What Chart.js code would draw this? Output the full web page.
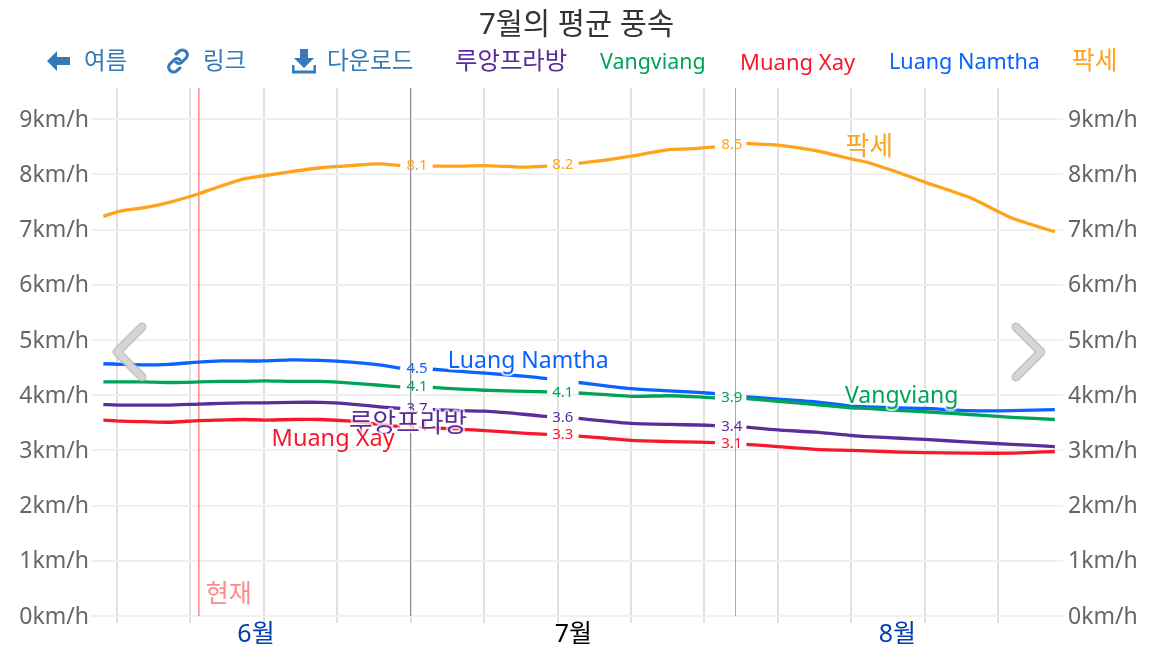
<!DOCTYPE html>
<html lang="ko">
<head>
<meta charset="utf-8">
<title>7월의 평균 풍속</title>
<script src="https://cdn.jsdelivr.net/npm/chart.js@4"></script>
<style>
body { margin: 0; background: #fff; overflow: hidden; }
#box { position: relative; width: 1153px; height: 647px; }
#grafico { position: absolute; left: 0; top: 0; }
.item { position: absolute; top: 44px; height: 34px; line-height: 34px; font-size: 22px; white-space: nowrap;
        font-family: "Noto Sans", "Noto Sans CJK KR", sans-serif; }
.nav { color: #337ab7; font-size: 23.5px; top: 43px; }
.icone, .seta { position: absolute; }
</style>
</head>
<body>
<div id="box">
  <canvas id="grafico" width="1153" height="647"></canvas>
  <svg class="icone" style="left:46px;top:50px" width="25" height="22" viewBox="0 0 25 22"><path d="M1 11 L11 1 V7 H24 V15 H11 V21 Z" fill="#337ab7"/></svg>
  <span class="item nav" style="left:84px">여름</span>
  <svg class="icone" style="left:166px;top:48px" width="24" height="26" viewBox="0 0 24 26"><g fill="none" stroke="#337ab7" stroke-width="3" stroke-linecap="round"><path d="M10 6 L14 2.5 Q17 1 20 3.5 Q22.5 6.5 20.5 9.5 L15 15 Q12 16.5 10 14"/><path d="M14 20 L10 23.5 Q7 25 4 22.5 Q1.5 19.5 3.5 16.5 L9 11 Q12 9.5 14 12"/></g></svg>
  <span class="item nav" style="left:203px">링크</span>
  <svg class="icone" style="left:292px;top:48px" width="24" height="26" viewBox="0 0 24 26"><path d="M8 1 H16 V10 H22 L12 20 L2 10 H8 Z" fill="#337ab7"/><path d="M1 17 V24 H23 V17" fill="none" stroke="#337ab7" stroke-width="3"/></svg>
  <span class="item nav" style="left:327px">다운로드</span>
  <svg class="seta" style="left:108px;top:320px" width="45" height="66" viewBox="0 0 45 66"><polyline points="34,7 9,32 34,57" fill="none" stroke="#b4b4b4" stroke-opacity="0.8" stroke-width="9" stroke-linecap="round" stroke-linejoin="round"/><polyline points="34,7 9,32 34,57" fill="none" stroke="#dadada" stroke-opacity="0.85" stroke-width="6" stroke-linecap="round" stroke-linejoin="round"/></svg>
  <svg class="seta" style="left:1005px;top:320px" width="45" height="66" viewBox="0 0 45 66"><polyline points="11,7 36,32 11,57" fill="none" stroke="#b4b4b4" stroke-opacity="0.8" stroke-width="9" stroke-linecap="round" stroke-linejoin="round"/><polyline points="11,7 36,32 11,57" fill="none" stroke="#dadada" stroke-opacity="0.85" stroke-width="6" stroke-linecap="round" stroke-linejoin="round"/></svg>
</div>
<script>
// dias contados a partir de 1 de junho
const dias = [0.7, 2.4, 4.6, 6.9, 9.8, 11.9, 14.1, 16.1, 18.6, 21.4, 24.3, 27, 29, 30.6, 32.1, 34.8, 37.1, 41, 43, 44.5, 46, 48.6, 51, 54.6, 57.4, 59, 60.6, 62, 65, 68.6, 72, 73.5, 76.7, 79, 83.3, 87.3, 91.4];

const pakse = [7.24, 7.34, 7.40, 7.49, 7.65, 7.79, 7.92, 7.98, 8.05, 8.12, 8.16, 8.19, 8.16, null, 8.15, 8.15, 8.16, 8.13, 8.15, null, 8.20, 8.26, 8.33, 8.45, 8.47, 8.50, null, 8.56, 8.53, 8.43, 8.28, 8.22, 8.02, 7.86, 7.58, 7.21, 6.96];
const luangNamtha = [4.57, 4.56, 4.55, 4.56, 4.60, 4.62, 4.62, 4.62, 4.64, 4.63, 4.60, 4.55, 4.49, null, 4.47, 4.43, 4.40, 4.34, 4.30, null, 4.23, 4.17, 4.12, 4.08, 4.05, 4.03, null, 3.97, 3.93, 3.88, 3.80, 3.79, 3.77, 3.76, 3.72, 3.72, 3.74];
const vangviang = [4.24, 4.24, 4.24, 4.23, 4.24, 4.25, 4.25, 4.26, 4.25, 4.25, 4.22, 4.18, 4.15, null, 4.14, 4.11, 4.09, 4.07, 4.06, null, 4.04, 4.01, 3.98, 3.99, 3.97, 3.95, null, 3.94, 3.89, 3.83, 3.77, 3.76, 3.72, 3.70, 3.65, 3.60, 3.56];
const luangPrabang = [3.83, 3.82, 3.82, 3.82, 3.84, 3.85, 3.86, 3.86, 3.87, 3.87, 3.84, 3.79, 3.76, null, 3.74, 3.72, 3.71, 3.65, 3.61, null, 3.58, 3.53, 3.49, 3.47, 3.46, 3.45, null, 3.42, 3.37, 3.33, 3.27, 3.25, 3.22, 3.20, 3.15, 3.11, 3.07];
const muangXay = [3.55, 3.53, 3.52, 3.51, 3.54, 3.55, 3.56, 3.55, 3.56, 3.56, 3.53, 3.47, 3.43, null, 3.41, 3.38, 3.36, 3.31, 3.29, null, 3.26, 3.22, 3.18, 3.16, 3.15, 3.14, null, 3.11, 3.07, 3.02, 3.00, 2.99, 2.97, 2.96, 2.95, 2.95, 2.98];

// medias mensais escritas nos buracos das linhas (null = a figura nao mostra)
const mediaPakse = [8.1, 8.2, 8.5];
const mediaLuangNamtha = [4.5, null, null];
const mediaVangviang = [4.1, 4.1, 3.9];
const mediaLuangPrabang = [3.7, 3.6, 3.4];
const mediaMuangXay = [3.4, 3.3, 3.1];

const semanas = [2, 9, 16, 23, 30, 37, 44, 51, 58, 65, 72, 79, 86];
const inicioMeses = [30, 61];
const meioMeses = [15.25, 45.5, 76.4];
const nomesMeses = ['6월', '7월', '8월'];
const ticksY = [0, 1, 2, 3, 4, 5, 6, 7, 8, 9];
const hoje = 9.8;

const fonte = '"Noto Sans", "Noto Sans CJK KR", sans-serif';

const series = [
    { nome: '루앙프라방', dados: luangPrabang, medias: mediaLuangPrabang, cor: '#5b2d9b', textoX: 29.74, textoY: 3.46, tamTexto: 25.7, legenda: 455, tamLegenda: 24.4, topo: 43 },
    { nome: 'Vangviang', dados: vangviang, medias: mediaVangviang, cor: '#00a35a', textoX: 76.8, textoY: 3.98, tamTexto: 23, legenda: 600, tamLegenda: 21.4, topo: 44 },
    { nome: 'Muang Xay', dados: muangXay, medias: mediaMuangXay, cor: '#f5192c', textoX: 22.6, textoY: 3.2, tamTexto: 23.5, legenda: 740, tamLegenda: 22, topo: 44 },
    { nome: 'Luang Namtha', dados: luangNamtha, medias: mediaLuangNamtha, cor: '#0a62ff', textoX: 41.2, textoY: 4.62, tamTexto: 23, legenda: 889, tamLegenda: 21.6, topo: 44 },
    { nome: '팍세', dados: pakse, medias: mediaPakse, cor: '#ffa31a', textoX: 73.7, textoY: 8.48, tamTexto: 25.8, legenda: 1072, tamLegenda: 24.7, topo: 43 }
];

series.forEach((s) => {
    const span = document.createElement('span');
    span.className = 'item';
    span.style.left = s.legenda + 'px';
    span.style.top = s.topo + 'px';
    span.style.fontSize = s.tamLegenda + 'px';
    span.style.color = s.cor;
    span.textContent = s.nome;
    document.getElementById('box').appendChild(span);
});

const linhasFundo = {
    id: 'linhasFundo',
    beforeDatasetsDraw(chart) {
        const { ctx, chartArea, scales } = chart;
        ctx.save();
        inicioMeses.forEach((d, i) => {
            const x = Math.floor(scales.x.getPixelForValue(d)) + 0.5;
            ctx.strokeStyle = i === 0 ? '#8a8a8a' : '#aaaaaa';
            ctx.lineWidth = 1;
            ctx.beginPath();
            ctx.moveTo(x, chartArea.top);
            ctx.lineTo(x, chartArea.bottom);
            ctx.stroke();
        });
        const xHoje = scales.x.getPixelForValue(hoje);
        ctx.strokeStyle = '#ff8a8a';
        ctx.lineWidth = 1.5;
        ctx.beginPath();
        ctx.moveTo(xHoje, chartArea.top);
        ctx.lineTo(xHoje, chartArea.bottom);
        ctx.stroke();
        ctx.fillStyle = '#ff8a8a';
        ctx.font = '25px ' + fonte;
        ctx.textAlign = 'left';
        ctx.textBaseline = 'middle';
        ctx.fillText('현재', xHoje + 7, 595);
        ctx.restore();
    }
};

const textos = {
    id: 'textos',
    afterDatasetsDraw(chart) {
        const { ctx, scales } = chart;
        ctx.save();
        ctx.textAlign = 'center';
        ctx.textBaseline = 'middle';
        // valores nos buracos
        ctx.font = '15px ' + fonte;
        series.forEach((s) => {
            let n = 0;
            s.dados.forEach((v, i) => {
                if (v !== null) return;
                const y = (s.dados[i - 1] + s.dados[i + 1]) / 2;
                const media = s.medias[n];
                n++;
                if (media === null) return;
                ctx.fillStyle = s.cor;
                ctx.fillText(media.toFixed(1), scales.x.getPixelForValue(dias[i]), scales.y.getPixelForValue(y));
            });
        });
        // nomes em cima das linhas
        ctx.lineJoin = 'round';
        series.forEach((s) => {
            const x = scales.x.getPixelForValue(s.textoX);
            const y = scales.y.getPixelForValue(s.textoY);
            ctx.font = s.tamTexto + 'px ' + fonte;
            ctx.strokeStyle = 'rgba(255,255,255,0.7)';
            ctx.lineWidth = 4;
            ctx.strokeText(s.nome, x, y);
            ctx.fillStyle = s.cor;
            ctx.fillText(s.nome, x, y);
        });
        ctx.restore();
    }
};

new Chart(document.getElementById('grafico').getContext('2d'), {
    type: 'line',
    data: {
        datasets: series.map((s) => ({
            label: s.nome,
            data: dias.map((d, i) => ({ x: d, y: s.dados[i] })),
            borderColor: s.cor,
            backgroundColor: s.cor,
            borderWidth: 3.3,
            pointRadius: 0,
            tension: 0.2,
            spanGaps: false,
            yAxisID: 'y'
        }))
    },
    options: {
        responsive: false,
        animation: false,
        layout: { padding: 0 },
        plugins: {
            legend: { display: false },
            tooltip: { enabled: false },
            title: {
                display: true,
                text: '7월의 평균 풍속',
                color: '#333333',
                font: { family: fonte, size: 29.5, weight: 'normal' },
                padding: { top: 8, bottom: 44.6 }
            }
        },
        scales: {
            x: {
                type: 'linear',
                min: -0.48,
                max: 92.18,
                afterBuildTicks(scale) {
                    scale.ticks = semanas.concat(meioMeses).sort((a, b) => a - b).map((v) => ({ value: v }));
                },
                afterFit(scale) { scale.height = 31; },
                border: { display: false },
                grid: {
                    color: (c) => (semanas.includes(c.tick.value) ? '#e0e0e0' : 'transparent'),
                    lineWidth: 2,
                    tickLength: 7
                },
                ticks: {
                    autoSkip: false,
                    maxRotation: 0,
                    padding: -3,
                    font: { family: fonte, size: 25 },
                    color: (c) => (c.tick.value === meioMeses[1] ? '#000000' : '#0040b0'),
                    callback: (v) => {
                        const i = meioMeses.indexOf(v);
                        return i >= 0 ? nomesMeses[i] : '';
                    }
                }
            },
            y: {
                position: 'left',
                min: 0,
                max: 9.565,
                afterBuildTicks(scale) { scale.ticks = ticksY.map((v) => ({ value: v })); },
                afterFit(scale) { scale.width = 91; },
                border: { display: false },
                grid: { color: '#f0f0f0', lineWidth: 2, drawTicks: false },
                ticks: {
                    padding: 2,
                    labelOffset: 1,
                    color: '#666666',
                    font: { family: fonte, size: 23 },
                    callback: (v) => v + 'km/h'
                }
            },
            y2: {
                position: 'right',
                min: 0,
                max: 9.565,
                afterBuildTicks(scale) { scale.ticks = ticksY.map((v) => ({ value: v })); },
                afterFit(scale) { scale.width = 90; },
                border: { display: false },
                grid: { display: false, drawTicks: false },
                ticks: {
                    padding: 5,
                    labelOffset: 1,
                    color: '#666666',
                    font: { family: fonte, size: 23 },
                    callback: (v) => v + 'km/h'
                }
            }
        }
    },
    plugins: [linhasFundo, textos]
});
</script>
</body>
</html>
